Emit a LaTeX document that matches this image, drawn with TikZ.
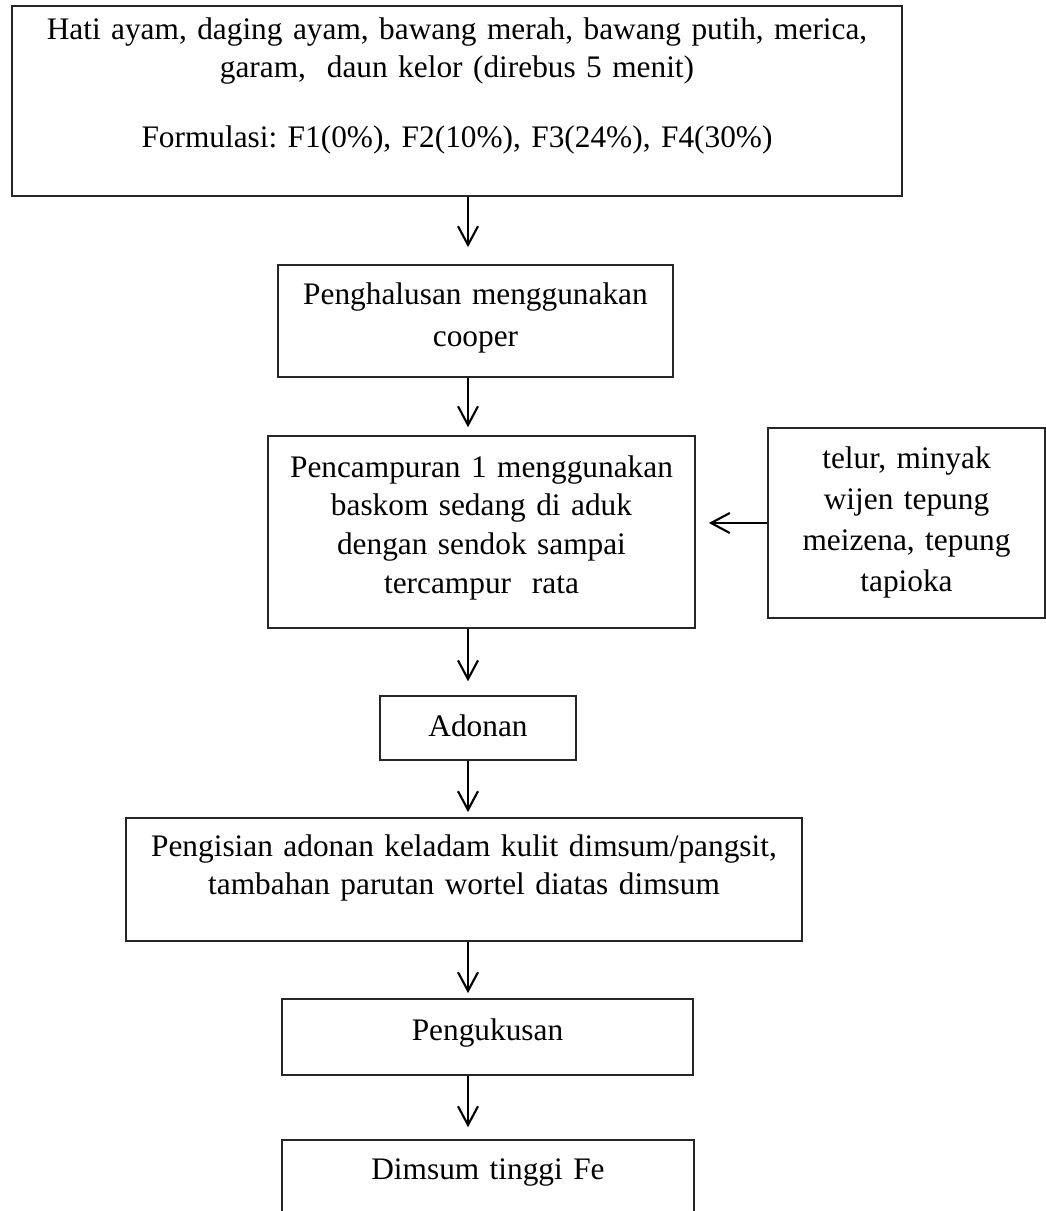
\documentclass[tikz,border=0pt]{standalone}
\usepackage{fontspec}
\setmainfont{Liberation Serif}
\usepackage{tikz}
\usetikzlibrary{arrows.meta}
\frenchspacing

\begin{document}
\begin{tikzpicture}[x=0.375pt,y=-0.375pt,
  font=\fontsize{11.75pt}{14.25pt}\selectfont,
  box/.style={draw=black!85,line width=0.6pt,inner xsep=0pt,inner ysep=0pt,anchor=base,align=center},
  flow/.style={-{Straight Barb[length=7pt,width=7.5pt]},line width=0.8pt}]
  \clip (0,0) rectangle (1046,1211); % 画像の範囲
  \coordinate (ax) at (468,0); % 縦の矢印が通る位置
  \node[box,text width=320pt,minimum width=333.75pt,text height=12.375pt,text depth=58.875pt]
    (bahan) at (457,39) {Hati ayam, daging ayam, bawang merah, bawang putih, merica,\\
    garam,\ \ daun kelor (direbus 5 menit)\\[12pt]
    Formulasi: F1(0\%), F2(10\%), F3(24\%), F4(30\%)}; % 材料の箱
  \node[box,font=\fontsize{11.75pt}{15.75pt}\selectfont,text width=140pt,minimum width=148.125pt,
    text height=14.625pt,text depth=27.375pt]
    (halus) at (475.5,304) {Penghalusan menggunakan\\ cooper}; % 細かくする工程
  \node[box,font=\fontsize{11.75pt}{14.5pt}\selectfont,text width=150pt,minimum width=160.125pt,
    text height=15.375pt,text depth=56.625pt]
    (campur) at (481.5,477) {Pencampuran 1 menggunakan\\ baskom sedang di aduk\\
    dengan sendok sampai\\ tercampur\ \ rata}; % 混ぜる工程
  \node[box,font=\fontsize{11.75pt}{15.4pt}\selectfont,text width=95pt,minimum width=103.875pt,
    text height=15pt,text depth=56.25pt]
    (tambah) at (906.5,468) {telur, minyak\\ wijen tepung\\ meizena, tepung\\ tapioka}; % 右から加える材料
  \node[box,text width=70pt,minimum width=73.5pt,text height=15pt,text depth=9pt]
    (adonan) at (478,736) {Adonan}; % 生地
  \node[box,text width=250pt,minimum width=253.5pt,text height=14.25pt,text depth=31.875pt]
    (isi) at (464,856) {Pengisian adonan keladam kulit dimsum/pangsit,\\
    tambahan parutan wortel diatas dimsum}; % 皮に詰める工程
  \node[box,text width=150pt,minimum width=154.125pt,text height=15.375pt,text depth=13.125pt]
    (kukus) at (487.5,1040) {Pengukusan}; % 蒸す工程
  \node[box,text width=150pt,minimum width=154.5pt,text height=14.625pt,text depth=22.5pt]
    (hasil) at (488,1179) {Dimsum tinggi Fe}; % 出来上がり（下端は切れている）
  \draw[flow,shorten >=6.4pt] (bahan.south -| ax) -- (halus.north -| ax); % 1本目の矢印
  \draw[flow,shorten >=3pt] (halus.south -| ax) -- (campur.north -| ax); % 2本目の矢印
  \draw[flow,shorten >=5.2pt] (campur.south -| ax) -- (adonan.north -| ax); % 3本目の矢印
  \draw[flow,shorten >=1.9pt] (adonan.south -| ax) -- (isi.north -| ax); % 4本目の矢印
  \draw[flow,shorten >=1.9pt] (isi.south -| ax) -- (kukus.north -| ax); % 5本目の矢印
  \draw[flow,shorten >=4.5pt] (kukus.south -| ax) -- (hasil.north -| ax); % 6本目の矢印
  \draw[flow,shorten >=4.9pt] (tambah.west) -- (campur.east |- tambah.west); % 横から入る矢印
\end{tikzpicture}
\end{document}
